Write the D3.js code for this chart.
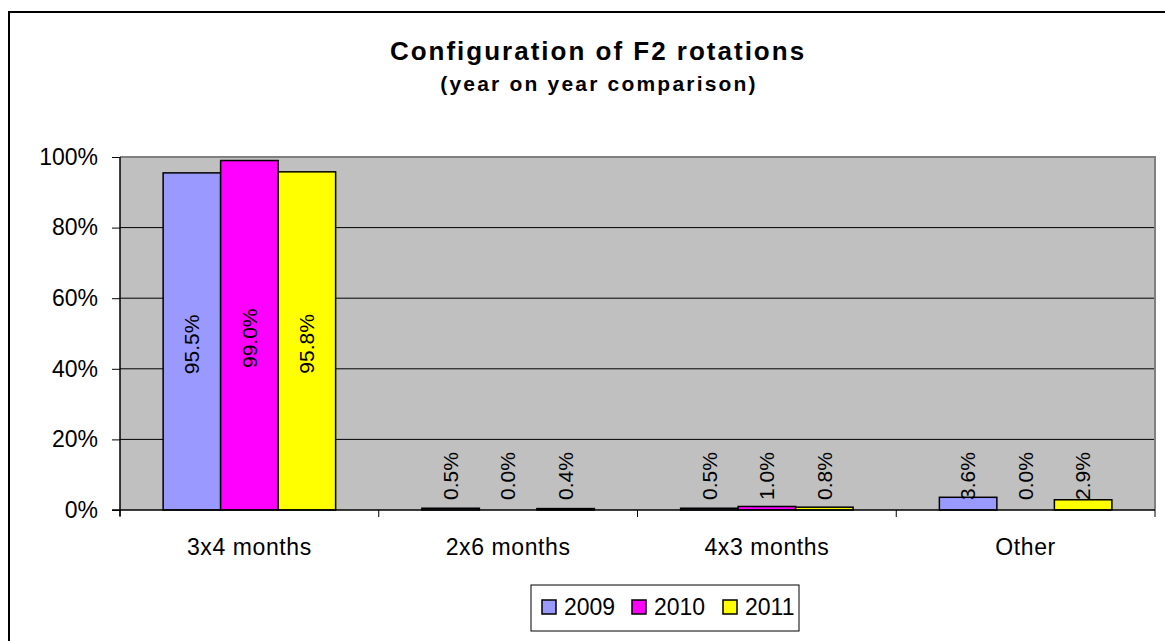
<!DOCTYPE html>
<html>
<head>
<meta charset="utf-8">
<script src="https://d3js.org/d3.v7.min.js"></script>
<style>
  body { margin: 0; background: #fff; }
  text { font-family: "Liberation Sans", Arial, sans-serif; }
</style>
</head>
<body>
<div id="chart"></div>
<script>
// data
var categories = ["3x4 months", "2x6 months", "4x3 months", "Other"];
var years = ["2009", "2010", "2011"];
var v2009 = [95.5, 0.5, 0.5, 3.6];
var v2010 = [99.0, 0.0, 1.0, 0.0];
var v2011 = [95.8, 0.4, 0.8, 2.9];
var yTicks = [0, 20, 40, 60, 80, 100];
var colors = ["#9999FF", "#FF00FF", "#FFFF00"];

var series = [v2009, v2010, v2011];
var W = 1165, H = 641;
var plot = {left: 120, right: 1155, top: 157, bottom: 510};

var svg = d3.select("#chart").append("svg")
  .attr("width", W)
  .attr("height", H);

// chart border (runs off the right and bottom)
svg.append("rect")
  .attr("x", 9).attr("y", 12)
  .attr("width", W + 20).attr("height", H + 20)
  .attr("fill", "#fff")
  .attr("stroke", "#000")
  .attr("stroke-width", 2);

// titles
svg.append("text")
  .attr("x", 598).attr("y", 60)
  .attr("text-anchor", "middle")
  .style("font-size", "26px").style("font-weight", "bold")
  .style("letter-spacing", "2px")
  .text("Configuration of F2 rotations");
svg.append("text")
  .attr("x", 599).attr("y", 91)
  .attr("text-anchor", "middle")
  .style("font-size", "21px").style("font-weight", "bold")
  .style("letter-spacing", "2.2px")
  .text("(year on year comparison)");

var x0 = d3.scaleBand()
  .domain(categories)
  .range([plot.left, plot.right]);

var x1 = d3.scaleBand()
  .domain(years)
  .range([0, x0.bandwidth()])
  .paddingInner(0)
  .paddingOuter(0.75);

var y = d3.scaleLinear()
  .domain([0, 100])
  .range([plot.bottom, plot.top]);

// plot area
svg.append("rect")
  .attr("x", plot.left).attr("y", plot.top)
  .attr("width", plot.right - plot.left)
  .attr("height", plot.bottom - plot.top)
  .attr("fill", "#C0C0C0");

// gridlines
svg.append("g")
  .selectAll("line")
  .data(yTicks.filter(function (d) { return d > 0 && d < 100; }))
  .enter().append("line")
    .attr("x1", plot.left).attr("x2", plot.right)
    .attr("y1", function (d) { return y(d); })
    .attr("y2", function (d) { return y(d); })
    .attr("stroke", "#000")
    .attr("stroke-width", 1);

// plot border top/right
svg.append("path")
  .attr("d", "M" + plot.left + "," + plot.top + "H" + plot.right + "V" + plot.bottom)
  .attr("fill", "none")
  .attr("stroke", "#808080")
  .attr("stroke-width", 2);

// bars
var groups = svg.append("g")
  .selectAll("g")
  .data(categories)
  .enter().append("g")
    .attr("transform", function (d) { return "translate(" + x0(d) + ",0)"; });

groups.selectAll("rect")
  .data(function (d, i) {
    return years.map(function (yr, j) { return {year: yr, value: series[j][i], k: j}; });
  })
  .enter().append("rect")
    .attr("x", function (d) { return x1(d.year); })
    .attr("y", function (d) { return y(d.value); })
    .attr("width", x1.bandwidth())
    .attr("height", function (d) { return y(0) - y(d.value); })
    .attr("fill", function (d) { return colors[d.k]; })
    .attr("stroke", "#000")
    .attr("stroke-width", 1.5);

// data labels, rotated
groups.selectAll("text")
  .data(function (d, i) {
    return years.map(function (yr, j) { return {year: yr, value: series[j][i]}; });
  })
  .enter().append("text")
    .attr("transform", function (d) {
      var cx = x1(d.year) + x1.bandwidth() / 2;
      var big = d.value > 20;
      var cy = big ? (y(d.value) + y(0)) / 2 + 3 : y(0) - 10;
      return "translate(" + cx + "," + cy + ") rotate(-90)";
    })
    .attr("text-anchor", function (d) { return d.value > 20 ? "middle" : "start"; })
    .attr("dy", "0.35em")
    .style("font-size", "21px")
    .text(function (d) { return d.value.toFixed(1) + "%"; });

// y axis
var yAxis = svg.append("g")
  .attr("transform", "translate(" + plot.left + ",0)")
  .call(d3.axisLeft(y).tickValues(yTicks).tickSize(8).tickPadding(14)
    .tickFormat(function (d) { return d + "%"; }));
yAxis.select(".domain").attr("stroke", "#000").attr("stroke-width", 1.5)
  .attr("d", "M0," + plot.top + "V" + (plot.bottom + 6));
yAxis.selectAll("text").style("font-size", "23px").attr("fill", "#000")
  .style("font-family", "'Liberation Sans', Arial, sans-serif");

// x axis
var xAxis = svg.append("g")
  .attr("transform", "translate(0," + plot.bottom + ")")
  .call(d3.axisBottom(x0).tickSize(0).tickPadding(29));
xAxis.select(".domain").attr("stroke", "#000").attr("stroke-width", 1.5)
  .attr("d", "M" + (plot.left - 8) + ",0H" + plot.right);
xAxis.selectAll("text").style("font-size", "23px").attr("fill", "#000")
  .style("letter-spacing", "0.6px")
  .style("font-family", "'Liberation Sans', Arial, sans-serif");
xAxis.selectAll(".boundary")
  .data(categories.map(function (c) { return x0(c); }).concat([plot.right]))
  .enter().append("line")
    .attr("class", "boundary")
    .attr("x1", function (d) { return d; }).attr("x2", function (d) { return d; })
    .attr("y1", 0).attr("y2", 7)
    .attr("stroke", "#000").attr("stroke-width", 1);

// legend
var legend = svg.append("g");
legend.append("rect")
  .attr("x", 531).attr("y", 585)
  .attr("width", 268).attr("height", 46)
  .attr("fill", "#fff")
  .attr("stroke", "#000")
  .attr("stroke-width", 1);
var legX = [542, 632, 723];
var items = legend.selectAll("g.item")
  .data(years)
  .enter().append("g")
    .attr("class", "item")
    .attr("transform", function (d, i) { return "translate(" + legX[i] + ",600)"; });
items.append("rect")
  .attr("width", 14).attr("height", 14)
  .attr("fill", function (d, i) { return colors[i]; })
  .attr("stroke", "#000").attr("stroke-width", 1.5);
items.append("text")
  .attr("x", 22).attr("y", 7).attr("dy", "0.35em")
  .style("font-size", "23px")
  .text(function (d) { return d; });
</script>
</body>
</html>
